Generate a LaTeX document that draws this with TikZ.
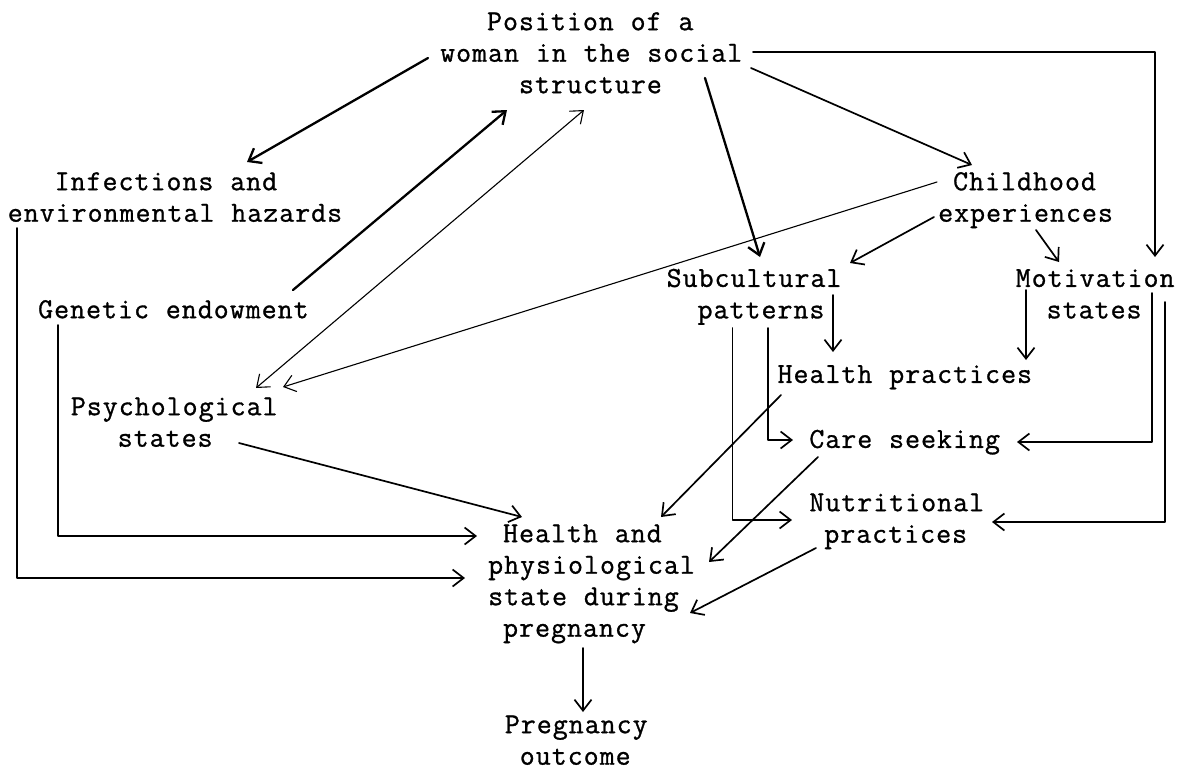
\documentclass[tikz,border=0pt]{standalone}
\usepackage{fontspec}
\newfontfamily\tw[LetterSpace=3.6,WordSpace=1.055,FakeBold=1]{Latin Modern Mono}
\usetikzlibrary{arrows.meta}
\tikzset{
  lbl/.style={font=\tw\fontsize{29}{31.5}\selectfont, align=left, inner sep=0pt, anchor=north west},
  con/.style={line width=1.7pt, line cap=round, line join=round},
  thk/.style={line width=2.3pt},
  thn/.style={line width=1.1pt},
  arr/.style={con, -{Straight Barb[length=11pt,width=17pt]}},
  darr/.style={con, {Straight Barb[length=11pt,width=17pt]}-{Straight Barb[length=11pt,width=17pt]}}
}
\begin{document}
\begin{tikzpicture}[x=1pt,y=-1pt]
\useasboundingbox (0,0) rectangle (1187,772);
% nodes
\node[lbl] (pos) at (440,7.95) {\strut\phantom{xxx}Position of a\\\strut woman in the social\\\strut\phantom{xxxxx}structure};
\node[lbl] (inf) at (7.6,167.95) {\strut\phantom{xxx}Infections and\\\strut environmental hazards};
\node[lbl] (gen) at (38,295.95) {\strut Genetic endowment};
\node[lbl] (psy) at (70.7,392.95) {\strut Psychological\\\strut\phantom{xxx}states};
\node[lbl] (child) at (938,167.95) {\strut\phantom{x}Childhood\\\strut experiences};
\node[lbl] (sub) at (666.5,264.65) {\strut Subcultural\\\strut\phantom{xx}patterns};
\node[lbl] (mot) at (1015.6,264.65) {\strut Motivation\\\strut\phantom{xx}states};
\node[lbl] (hp) at (777.4,360.65) {\strut Health practices};
\node[lbl] (care) at (809.2,425.65) {\strut Care seeking};
\node[lbl] (nut) at (809.2,488.95) {\strut Nutritional\\\strut\phantom{x}practices};
\node[lbl] (hlth) at (488,519.95) {\strut\phantom{x}Health and\\\strut physiological\\\strut state during\\\strut\phantom{x}pregnancy};
\node[lbl] (out) at (504.7,710.95) {\strut Pregnancy\\\strut\phantom{x}outcome};
% connector end points
\coordinate (pos-inf) at (428,58);
\coordinate (inf-pos) at (247,162);
\coordinate (gen-pos) at (293,290);
\coordinate (pos-gen) at (507,110);
\coordinate (psy-pos) at (256,388);
\coordinate (pos-psy) at (584,110);
\coordinate (child-psy) at (937,182);
\coordinate (psy-child) at (283,387);
\coordinate (pos-child) at (751,68);
\coordinate (child-pos) at (972,165);
\coordinate (pos-sub) at (705,78);
\coordinate (sub-pos) at (760,257);
\coordinate (pos-mot) at (753,52);
\coordinate (mot-pos) at (1155,257);
\coordinate (child-sub) at (934,217);
\coordinate (sub-child) at (850,263);
\coordinate (child-mot) at (1036,230);
\coordinate (mot-child) at (1059,262);
\coordinate (sub-hp) at (833,295);
\coordinate (hp-sub) at (833,352);
\coordinate (mot-hp) at (1026,290);
\coordinate (hp-mot) at (1026,360);
\coordinate (sub-care) at (768,328);
\coordinate (care-sub) at (793,440);
\coordinate (sub-nut) at (732.5,328);
\coordinate (nut-sub) at (792,520);
\coordinate (mot-care) at (1152,293);
\coordinate (care-mot) at (1017,442);
\coordinate (mot-nut) at (1165,302);
\coordinate (nut-mot) at (992,522);
\coordinate (hp-hlth) at (781,395);
\coordinate (hlth-hp) at (661,517);
\coordinate (care-hlth) at (818,457);
\coordinate (hlth-care) at (709,562);
\coordinate (nut-hlth) at (816,548);
\coordinate (hlth-nut) at (690,613);
\coordinate (psy-hlth) at (239,443);
\coordinate (hlth-psy) at (522,517);
\coordinate (gen-hlth) at (58,325);
\coordinate (hlth-gen) at (477,536);
\coordinate (inf-hlth) at (17,228);
\coordinate (hlth-inf) at (465,578);
\coordinate (hlth-out) at (583,648);
\coordinate (out-hlth) at (583,712);
% connectors
\draw[arr,thk] (pos-inf) -- (inf-pos);
\draw[arr,thk] (gen-pos) -- (pos-gen);
\draw[darr,thn] (psy-pos) -- (pos-psy);
\draw[arr,thn] (child-psy) -- (psy-child);
\draw[arr] (pos-child) -- (child-pos);
\draw[arr,thk] (pos-sub) -- (sub-pos);
\draw[arr] (pos-mot) -| (mot-pos);
\draw[arr] (child-sub) -- (sub-child);
\draw[arr] (child-mot) -- (mot-child);
\draw[arr] (sub-hp) -- (hp-sub);
\draw[arr] (mot-hp) -- (hp-mot);
\draw[arr] (sub-care) |- (care-sub);
\draw[arr] (sub-nut) |- (nut-sub);
\draw[arr] (mot-care) |- (care-mot);
\draw[arr] (mot-nut) |- (nut-mot);
\draw[arr] (hp-hlth) -- (hlth-hp);
\draw[arr] (care-hlth) -- (hlth-care);
\draw[arr] (nut-hlth) -- (hlth-nut);
\draw[arr] (psy-hlth) -- (hlth-psy);
\draw[arr] (gen-hlth) |- (hlth-gen);
\draw[arr] (inf-hlth) |- (hlth-inf);
\draw[arr] (hlth-out) -- (out-hlth);
\end{tikzpicture}
\end{document}
